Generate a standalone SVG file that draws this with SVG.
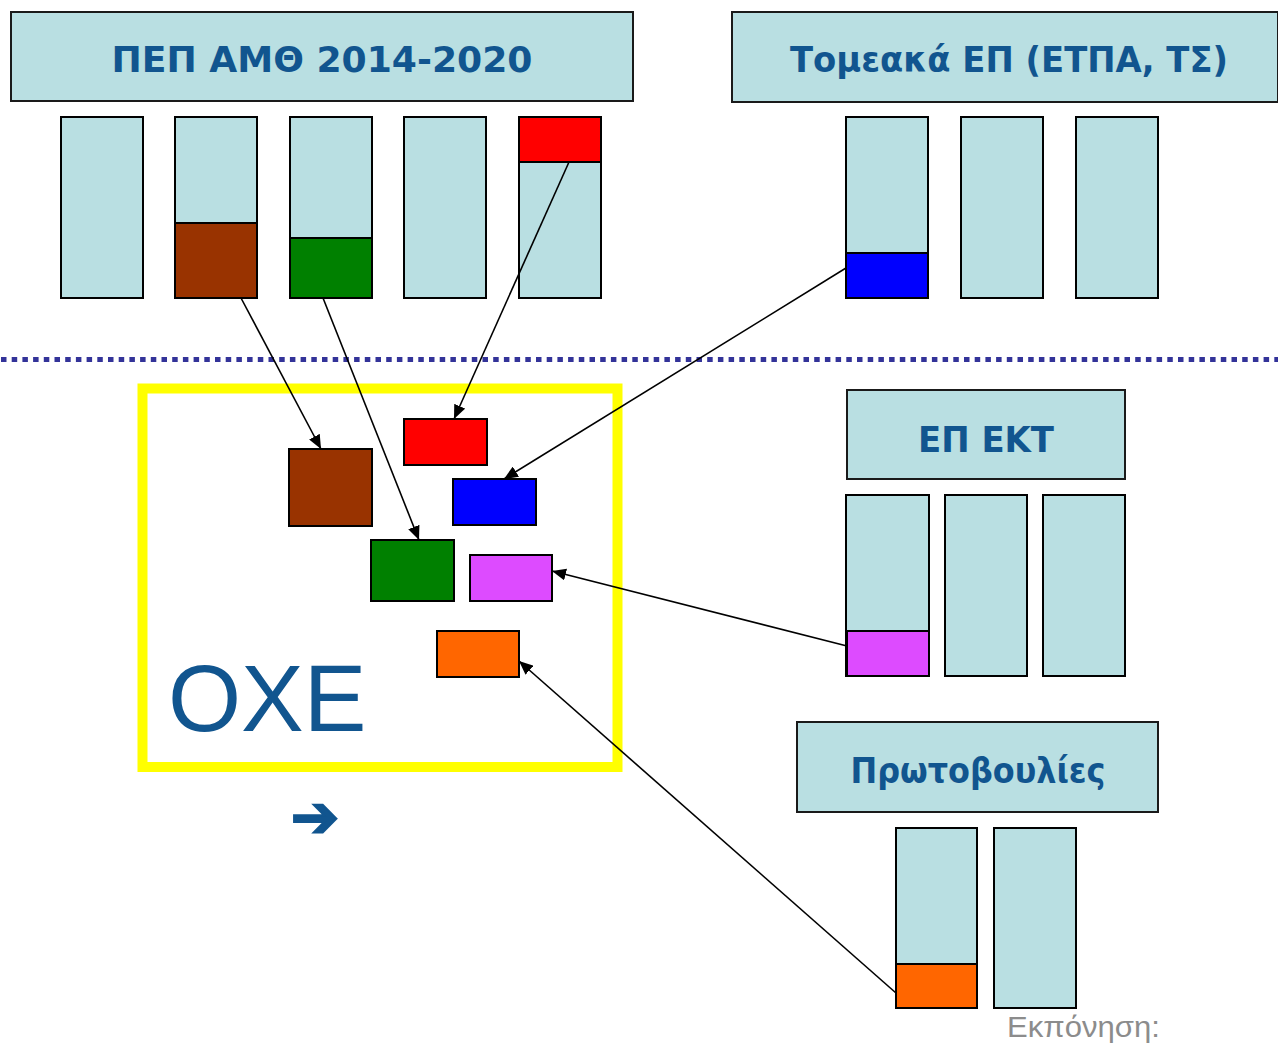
<svg xmlns="http://www.w3.org/2000/svg" width="1278" height="1045" viewBox="0 0 1278 1045">
<style>
.lb{fill:#b9dfe2;stroke:#000;stroke-width:2}
.hd{fill:#b9dfe2;stroke:#1a1a1a;stroke-width:2}
.seg{stroke:#000;stroke-width:2}
.ht{font-family:"DejaVu Sans",Verdana,sans-serif;font-weight:bold;fill:#11558f;text-anchor:middle}
.conn{stroke:#000;stroke-width:1.6;fill:none;marker-end:url(#ah)}
</style>
<defs>
<marker id="ah" viewBox="0 0 14 12" refX="14" refY="6" markerWidth="14" markerHeight="12" markerUnits="userSpaceOnUse" orient="auto">
<path d="M0,0 L14,6 L0,12 z" fill="#000"/>
</marker>
</defs>
<rect width="1278" height="1045" fill="#fff"/>

<g id="pep-amth">
<rect class="hd" x="11" y="12" width="622" height="89"/>
<text class="ht" x="322" y="72" font-size="36" textLength="421" lengthAdjust="spacingAndGlyphs">ΠΕΠ ΑΜΘ 2014-2020</text>
<rect class="lb" x="61" y="117" width="82" height="181"/>
<rect class="lb" x="175" y="117" width="82" height="181"/>
<rect class="seg" x="175" y="223" width="82" height="75" fill="#993300"/>
<rect class="lb" x="290" y="117" width="82" height="181"/>
<rect class="seg" x="290" y="238" width="82" height="60" fill="#008000"/>
<rect class="lb" x="404" y="117" width="82" height="181"/>
<rect class="lb" x="519" y="117" width="82" height="181"/>
<rect class="seg" x="519" y="117" width="82" height="45" fill="#ff0000"/>
</g>

<g id="tomeaka-ep">
<rect class="hd" x="732" y="12" width="546" height="90"/>
<text class="ht" x="1009" y="72" font-size="36" textLength="438" lengthAdjust="spacingAndGlyphs">Τομεακά ΕΠ (ΕΤΠΑ, ΤΣ)</text>
<rect class="lb" x="846" y="117" width="82" height="181"/>
<rect class="seg" x="846" y="253" width="82" height="45" fill="#0000ff"/>
<rect class="lb" x="961" y="117" width="82" height="181"/>
<rect class="lb" x="1076" y="117" width="82" height="181"/>
</g>

<line id="divider" x1="1" y1="359.5" x2="1278" y2="359.5" stroke="#333399" stroke-width="5" stroke-dasharray="5.5 5.2"/>

<g id="oxe">
<rect x="142.5" y="388.5" width="475" height="378.5" fill="none" stroke="#ffff00" stroke-width="10"/>
<rect class="seg" x="289" y="449" width="83" height="77" fill="#993300"/>
<rect class="seg" x="404" y="419" width="83" height="46" fill="#ff0000"/>
<rect class="seg" x="453" y="479" width="83" height="46" fill="#0000ff"/>
<rect class="seg" x="371" y="540" width="83" height="61" fill="#008000"/>
<rect class="seg" x="470" y="555" width="82" height="46" fill="#dd4bff"/>
<rect class="seg" x="437" y="631" width="82" height="46" fill="#ff6600"/>
<text x="168" y="731" font-family="'Liberation Sans',Arial,sans-serif" font-size="94" fill="#11558f">ΟΧΕ</text>
</g>

<g id="arrow-symbol">
<text x="315" y="837" font-family="'DejaVu Sans',sans-serif" font-weight="bold" font-size="58" fill="#11558f" stroke="#11558f" stroke-width="2" text-anchor="middle">➔</text>
</g>

<g id="ep-ekt">
<rect class="hd" x="847" y="390" width="278" height="89"/>
<text class="ht" x="986" y="452" font-size="36" textLength="136" lengthAdjust="spacingAndGlyphs">ΕΠ ΕΚΤ</text>
<rect class="lb" x="846" y="495" width="83" height="181"/>
<rect class="seg" x="847" y="631" width="82" height="45" fill="#dd4bff"/>
<rect class="lb" x="945" y="495" width="82" height="181"/>
<rect class="lb" x="1043" y="495" width="82" height="181"/>
</g>

<g id="protovoulies">
<rect class="hd" x="797" y="722" width="361" height="90"/>
<text class="ht" x="978" y="783" font-size="36" textLength="255" lengthAdjust="spacingAndGlyphs">Πρωτοβουλίες</text>
<rect class="lb" x="896" y="828" width="81" height="180"/>
<rect class="seg" x="896" y="964" width="81" height="44" fill="#ff6600"/>
<rect class="lb" x="994" y="828" width="82" height="180"/>
</g>

<g id="connectors">
<line class="conn" x1="241" y1="298" x2="321" y2="449"/>
<line class="conn" x1="323" y1="298" x2="419" y2="540"/>
<line class="conn" x1="569" y1="162" x2="454" y2="419"/>
<line class="conn" x1="846" y1="268" x2="504" y2="479"/>
<line class="conn" x1="847" y1="646" x2="552" y2="571"/>
<line class="conn" x1="896" y1="993" x2="519" y2="661"/>
</g>

<text id="credit" x="1007" y="1037" font-family="'Liberation Sans',Arial,sans-serif" font-size="29" fill="#8c8c8c" textLength="153" lengthAdjust="spacingAndGlyphs">Εκπόνηση:</text>
</svg>
